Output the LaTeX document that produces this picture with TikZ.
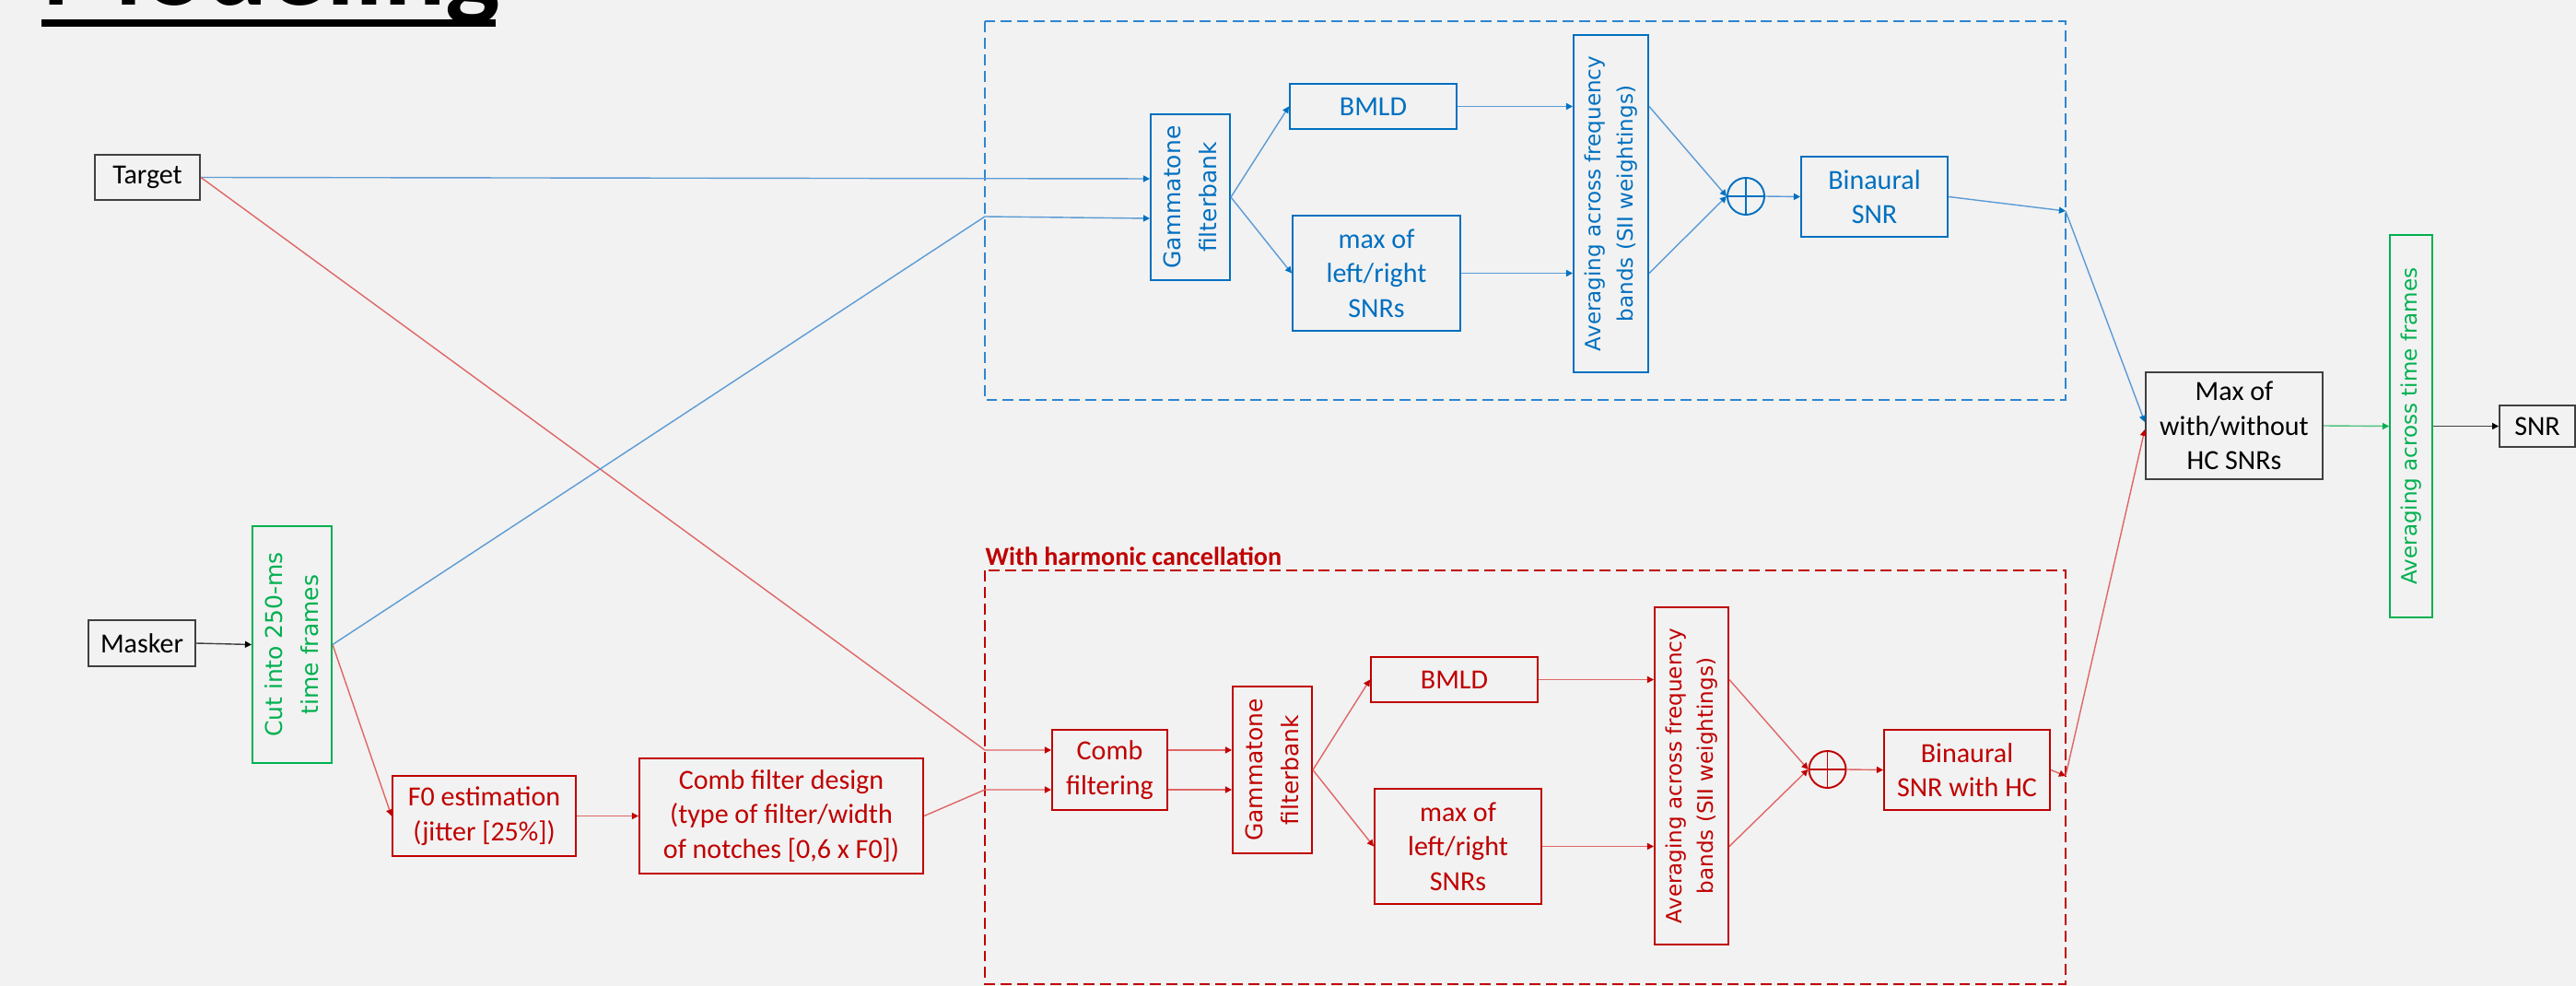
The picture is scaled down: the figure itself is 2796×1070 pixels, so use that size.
\documentclass[tikz,border=0pt]{standalone}
\usepackage{fontspec}
\setmainfont{Carlito}
\newfontfamily\vfont{DejaVu Sans}
\usetikzlibrary{arrows.meta,calc}
\definecolor{bg}{HTML}{F2F2F2}
\definecolor{cblue}{HTML}{0070C0}
\definecolor{lblue}{HTML}{5B9BD5}
\definecolor{dblue}{HTML}{2E86D1}
\definecolor{cred}{HTML}{C00000}
\definecolor{lred}{HTML}{E06666}
\definecolor{cgreen}{HTML}{00B050}
\definecolor{lgreen}{HTML}{4FC37E}
\definecolor{cgray}{HTML}{404040}
\newcommand\fmain{\fontsize{8.54}{10.67}\selectfont}
\newcommand\fgam{\vfont\fontsize{7.1}{11}\selectfont}
\newcommand\favg{\vfont\fontsize{6.55}{9.85}\selectfont}
\begin{document}
\begin{tikzpicture}[x=0.01cm,y=-0.01cm,
  bx/.style={draw, line width=0.55pt, inner sep=0pt, align=center, font=\fmain},
  bbox/.style={bx, draw=cblue, text=cblue},
  rbox/.style={bx, draw=cred, text=cred},
  kbox/.style={bx, draw=cgray, text=black},
  gbox/.style={bx, draw=cgreen, text=cgreen},
  rot/.style={rotate=90, inner sep=0pt, align=center},
  sumc/.style={circle, draw, line width=0.55pt, minimum size=0.4cm, inner sep=0pt},
  bl/.style={draw=lblue, line width=0.4pt},
  ba/.style={bl, -{Triangle[length=2pt,width=2pt,color=cblue]}},
  rl/.style={draw=lred, line width=0.4pt},
  ra/.style={rl, -{Triangle[length=2pt,width=2pt,color=cred]}},
  ga/.style={draw=lgreen, line width=0.4pt, -{Triangle[length=2pt,width=2pt,color=cgreen]}},
  ka/.style={draw=cgray, line width=0.4pt, -{Triangle[length=2pt,width=2pt,color=black]}},
  dbox/.style={dashed, dash pattern=on 3.4pt off 1.7pt, line width=0.55pt}
]
\useasboundingbox (0,0) rectangle (2796,1070);
\clip (0,0) rectangle (2796,1070);
\fill[bg] (0,0) rectangle (2796,1070);

% title
\node[anchor=base west, inner sep=0pt, font=\fontsize{35.8}{40}\selectfont\bfseries] (title) at (45,6) {Modeling};
\fill (45,21) rectangle (538,29);

% dashed group boxes
\draw[dbox, draw=dblue] (1069,23) rectangle (2242,434);
\draw[dbox, draw=cred] (1069,619) rectangle (2242,1068);
\node[anchor=base west, inner sep=0pt, text=cred, font=\fontsize{8}{10}\selectfont\bfseries] (hclab) at (1069,613) {With harmonic cancellation};

% inputs
\node[kbox, minimum width=1.14cm, minimum height=0.49cm] (target) at (160,192.5) {Target};
\node[kbox, minimum width=1.16cm, minimum height=0.50cm] (masker) at (154,698) {Masker};
\node[gbox, minimum width=0.86cm, minimum height=2.57cm] (cut) at (317,699.5) {};
\node[rot, text=cgreen, font=\fgam] (cut-t) at (cut) {Cut into 250-ms\\time frames};

% blue chain
\node[bbox, minimum width=0.86cm, minimum height=1.80cm] (bgam) at (1292,214) {};
\node[rot, text=cblue, font=\fgam] (bgam-t) at (bgam) {Gammatone\\filterbank};
\node[bbox, minimum width=1.81cm, minimum height=0.49cm] (bbmld) at (1490.5,115.5) {BMLD};
\node[bbox, minimum width=1.82cm, minimum height=1.25cm] (bmax) at (1494,296.5) {max of\\left/right\\SNRs};
\node[bbox, minimum width=0.81cm, minimum height=3.66cm] (bavg) at (1748.5,221) {};
\node[rot, text=cblue, font=\favg] (bavg-t) at (bavg) {Averaging across frequency\\bands (SII weightings)};
\node[sumc, draw=cblue] (bsum) at (1895,213) {};
\draw[cblue, line width=0.4pt] (bsum.north) -- (bsum.south) (bsum.west) -- (bsum.east);
\node[bbox, minimum width=1.59cm, minimum height=0.87cm] (bbin) at (2034.5,213.5) {Binaural\\SNR};

% red chain
\node[rbox, minimum width=1.99cm, minimum height=0.87cm] (f0) at (525.5,885.5) {F0 estimation\\(jitter [25\%])};
\node[rbox, minimum width=3.08cm, minimum height=1.25cm] (cd) at (848,885.5) {Comb filter design\\(type of filter/width\\of notches [0,6 x F0])};
\node[rbox, minimum width=1.25cm, minimum height=0.87cm] (rcomb) at (1204.5,835.5) {Comb\\filtering};
\node[rbox, minimum width=0.86cm, minimum height=1.81cm] (rgam) at (1381,835.5) {};
\node[rot, text=cred, font=\fgam] (rgam-t) at (rgam) {Gammatone\\filterbank};
\node[rbox, minimum width=1.81cm, minimum height=0.49cm] (rbmld) at (1578.5,737.5) {BMLD};
\node[rbox, minimum width=1.81cm, minimum height=1.25cm] (rmax) at (1582.5,918.5) {max of\\left/right\\SNRs};
\node[rbox, minimum width=0.80cm, minimum height=3.66cm] (ravg) at (1836,842) {};
\node[rot, text=cred, font=\favg] (ravg-t) at (ravg) {Averaging across frequency\\bands (SII weightings)};
\node[sumc, draw=cred] (rsum) at (1983.5,835) {};
\draw[cred, line width=0.4pt] (rsum.north) -- (rsum.south) (rsum.west) -- (rsum.east);
\node[rbox, minimum width=1.80cm, minimum height=0.87cm] (rbin) at (2135,835.5) {Binaural\\SNR with HC};

% output
\node[kbox, minimum width=1.92cm, minimum height=1.16cm] (maxhc) at (2425,462) {Max of\\with/without\\HC SNRs};
\node[gbox, minimum width=0.46cm, minimum height=4.15cm] (avgt) at (2617,462.5) {};
\node[rot, text=cgreen, font=\favg] (avgt-t) at (avgt) {Averaging across time frames};
\node[kbox, minimum width=0.82cm, minimum height=0.45cm] (snr) at (2754,462.5) {SNR};

% junction points on group borders
\coordinate (bin2) at (1069,235);
\coordinate (rin1) at (1069,814);
\coordinate (rin2) at (1069,857);
\coordinate (bout) at (2242,229);
\coordinate (rout) at (2242,842);

% input connectors
\draw[ka] (masker.east) -- (cut.west);
\draw[ba] (target.east) -- ([yshift=0.2cm]bgam.west);
\draw[rl] (target.east) -- (rin1);
\draw[ra] (rin1) -- ([yshift=0.215cm]rcomb.west);
\draw[bl] (cut.east) -- (bin2);
\draw[ba] (bin2) -- ([yshift=-0.23cm]bgam.west);
\draw[ra] (cut.east) -- (f0.west);
\draw[ra] (f0.east) -- (cd.west);
\draw[rl] (cd.east) -- (rin2);
\draw[ra] (rin2) -- ([yshift=-0.215cm]rcomb.west);

% blue chain connectors
\draw[ba] (bgam.east) -- (bbmld.west);
\draw[ba] (bgam.east) -- (bmax.west);
\draw[ba] (bbmld.east) -- (bbmld.east -| bavg.west);
\draw[ba] (bmax.east) -- (bmax.east -| bavg.west);
\draw[ba] (bavg.east |- bbmld.east) -- (bsum.west);
\draw[ba] (bavg.east |- bmax.east) -- (bsum.west);
\draw[ba] (bsum.east) -- (bbin.west);
\draw[ba] (bbin.east) -- (bout);
\draw[ba] (bout) -- ([yshift=0.04cm]maxhc.west);

% red chain connectors
\draw[ra] ([yshift=0.215cm]rcomb.east) -- ([yshift=0.215cm]rgam.west);
\draw[ra] ([yshift=-0.215cm]rcomb.east) -- ([yshift=-0.215cm]rgam.west);
\draw[ra] (rgam.east) -- (rbmld.west);
\draw[ra] (rgam.east) -- (rmax.west);
\draw[ra] (rbmld.east) -- (rbmld.east -| ravg.west);
\draw[ra] (rmax.east) -- (rmax.east -| ravg.west);
\draw[ra] (ravg.east |- rbmld.east) -- (rsum.west);
\draw[ra] (ravg.east |- rmax.east) -- (rsum.west);
\draw[ra] (rsum.east) -- (rbin.west);
\draw[ra] (rbin.east) -- (rout);
\draw[ra] (rout) -- ([yshift=-0.04cm]maxhc.west);

% output connectors
\draw[ga] (maxhc.east) -- (avgt.west);
\draw[ka] (avgt.east) -- (snr.west);
\end{tikzpicture}
\end{document}
